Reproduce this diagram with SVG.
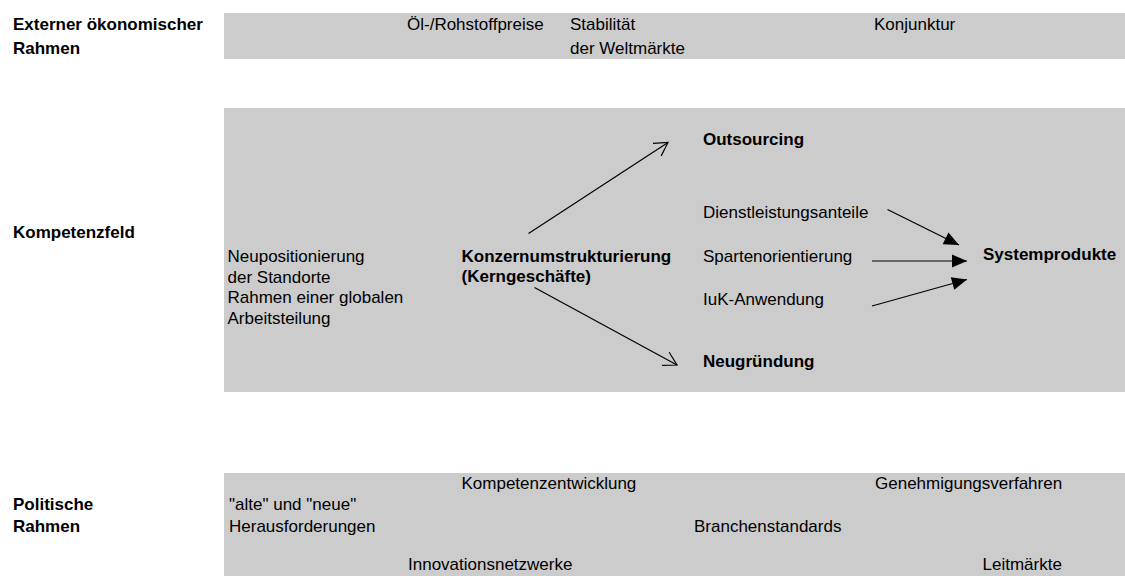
<svg xmlns="http://www.w3.org/2000/svg" width="1125" height="576" viewBox="0 0 1125 576">
<style>
text{font-family:"Liberation Sans",Arial,sans-serif;font-size:17px;fill:#000}
.b{font-weight:bold}
.band{fill:#cccccc}
.ln{stroke:#000;stroke-width:1.2;fill:none}
</style>
<defs>
<marker id="open" markerUnits="userSpaceOnUse" markerWidth="16" markerHeight="18" viewBox="0 0 16 18" refX="14" refY="8.5" orient="auto" overflow="visible">
<path d="M1,1 L14,8.5 L1,16" fill="none" stroke="#000" stroke-width="1.2"/>
</marker>
<marker id="solid" markerUnits="userSpaceOnUse" markerWidth="16" markerHeight="14" viewBox="0 0 16 14" refX="15" refY="6.5" orient="auto" overflow="visible">
<path d="M0,0 L15,6.5 L0,13 z" fill="#000"/>
</marker>
</defs>
<rect width="1125" height="576" fill="#fff"/>
<g id="band-extern">
<rect class="band" x="224" y="13" width="901" height="46"/>
<text class="b" x="13" y="29.5">Externer ökonomischer</text>
<text class="b" x="13" y="54">Rahmen</text>
<text x="407" y="29.5">Öl-/Rohstoffpreise</text>
<text x="570" y="29.5">Stabilität</text>
<text x="570" y="54">der Weltmärkte</text>
<text x="874" y="29.5">Konjunktur</text>
</g>
<g id="band-kompetenz">
<rect class="band" x="224" y="108" width="901" height="284"/>
<text class="b" x="13" y="238">Kompetenzfeld</text>
</g>
<g id="node-standorte">
<text x="227.5" y="262">Neupositionierung</text>
<text x="227.5" y="282.5">der Standorte</text>
<text x="227.5" y="303">Rahmen einer globalen</text>
<text x="227.5" y="323.5">Arbeitsteilung</text>
</g>
<g id="node-konzern">
<text class="b" x="461.5" y="262">Konzernumstrukturierung</text>
<text class="b" x="461.5" y="281.5">(Kerngeschäfte)</text>
</g>
<g id="node-outsourcing"><text class="b" x="703" y="145">Outsourcing</text></g>
<g id="node-dienst"><text x="703" y="218">Dienstleistungsanteile</text></g>
<g id="node-sparten"><text x="703" y="262">Spartenorientierung</text></g>
<g id="node-iuk"><text x="703" y="305">IuK-Anwendung</text></g>
<g id="node-neugruendung"><text class="b" x="703" y="367">Neugründung</text></g>
<g id="node-system"><text class="b" x="983" y="259.5">Systemprodukte</text></g>
<g id="connectors">
<line class="ln" x1="528.5" y1="233.5" x2="668" y2="142.5" marker-end="url(#open)"/>
<line class="ln" x1="534.5" y1="287.5" x2="677" y2="365" marker-end="url(#open)"/>
<line class="ln" x1="887.5" y1="209.5" x2="959" y2="245" marker-end="url(#solid)"/>
<line class="ln" x1="872" y1="261" x2="967" y2="261" marker-end="url(#solid)"/>
<line class="ln" x1="872" y1="306" x2="967" y2="279.5" marker-end="url(#solid)"/>
</g>
<g id="band-politik">
<rect class="band" x="224" y="473" width="901" height="103"/>
<text class="b" x="13" y="510">Politische</text>
<text class="b" x="13" y="531.5">Rahmen</text>
<text x="229" y="510">"alte" und "neue"</text>
<text x="229" y="531.5">Herausforderungen</text>
<text x="461.5" y="488.5">Kompetenzentwicklung</text>
<text x="875" y="488.5">Genehmigungsverfahren</text>
<text x="694" y="531.5">Branchenstandards</text>
<text x="408" y="570">Innovationsnetzwerke</text>
<text x="982.5" y="570">Leitmärkte</text>
</g>
</svg>
